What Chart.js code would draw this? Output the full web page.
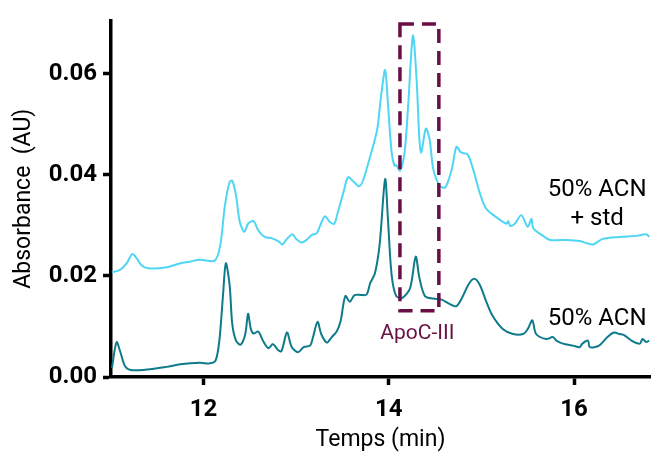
<!DOCTYPE html>
<html>
<head>
<meta charset="utf-8">
<script src="https://cdn.jsdelivr.net/npm/chart.js@4/dist/chart.umd.min.js"></script>
<style>
  html, body { margin: 0; padding: 0; background: #fff; }
  canvas { display: block; }
</style>
</head>
<body>
<canvas id="chromato" width="651" height="455"></canvas>
<script>
// Chromatogrammes : 50% ACN avec et sans standard (ApoC-III)

const tempsStd = [
  11.01, 11.10, 11.17, 11.23, 11.28, 11.33, 11.40, 11.60, 11.75, 11.85, 11.96, 12.12,
  12.18, 12.23, 12.28, 12.31, 12.35, 12.39, 12.44, 12.48, 12.54, 12.59, 12.66, 12.74,
  12.81, 12.85, 12.90, 12.96, 13.00, 13.06, 13.11, 13.17, 13.22, 13.26, 13.31, 13.36,
  13.41, 13.45, 13.51, 13.56, 13.62, 13.68, 13.72, 13.78, 13.85, 13.88, 13.92, 13.96,
  13.99, 14.03, 14.06, 14.08, 14.12, 14.17, 14.21, 14.26, 14.30, 14.33, 14.35, 14.40,
  14.44, 14.48, 14.55, 14.61, 14.68, 14.73, 14.78, 14.85, 14.91, 14.98, 15.05, 15.16,
  15.27, 15.29, 15.31, 15.36, 15.43, 15.50, 15.54, 15.56, 15.65, 15.74, 15.92, 16.06,
  16.20, 16.31, 16.49, 16.67, 16.78, 16.81,
];
const absStd = [
  0.0207, 0.0212, 0.0225, 0.0243, 0.0234, 0.0221, 0.0215, 0.0217, 0.0225, 0.0228, 0.0232, 0.0230,
  0.0261, 0.0339, 0.0385, 0.0388, 0.0359, 0.0307, 0.0287, 0.0303, 0.0308, 0.0290, 0.0277, 0.0274,
  0.0268, 0.0262, 0.0273, 0.0282, 0.0273, 0.0266, 0.0271, 0.0281, 0.0284, 0.0300, 0.0318, 0.0307,
  0.0303, 0.0326, 0.0365, 0.0395, 0.0386, 0.0377, 0.0388, 0.0424, 0.0470, 0.0496, 0.0561, 0.0607,
  0.0541, 0.0444, 0.0418, 0.0419, 0.0408, 0.0444, 0.0541, 0.0675, 0.0587, 0.0470, 0.0444, 0.0491,
  0.0470, 0.0411, 0.0378, 0.0375, 0.0411, 0.0455, 0.0444, 0.0440, 0.0411, 0.0365, 0.0333, 0.0316,
  0.0303, 0.0308, 0.0299, 0.0303, 0.0320, 0.0297, 0.0313, 0.0294, 0.0281, 0.0271, 0.0271, 0.0269,
  0.0262, 0.0273, 0.0277, 0.0279, 0.0282, 0.0277,
];

const tempsAcn = [
  11.01, 11.06, 11.10, 11.15, 11.21, 11.35, 11.60, 11.75, 11.96, 12.07, 12.13, 12.17,
  12.21, 12.24, 12.28, 12.31, 12.35, 12.40, 12.45, 12.48, 12.51, 12.54, 12.59, 12.64,
  12.70, 12.75, 12.80, 12.84, 12.90, 12.95, 13.02, 13.08, 13.15, 13.18, 13.23, 13.27,
  13.33, 13.38, 13.44, 13.48, 13.53, 13.58, 13.63, 13.71, 13.76, 13.80, 13.85, 13.90,
  13.96, 13.99, 14.03, 14.08, 14.15, 14.23, 14.29, 14.33, 14.39, 14.48, 14.57, 14.66,
  14.73, 14.80, 14.86, 14.92, 14.98, 15.05, 15.12, 15.23, 15.34, 15.45, 15.50, 15.55,
  15.59, 15.70, 15.77, 15.81, 15.88, 15.99, 16.06, 16.09, 16.15, 16.17, 16.27, 16.36,
  16.43, 16.49, 16.54, 16.62, 16.71, 16.74, 16.78, 16.81,
];
const absAcn = [
  0.0018, 0.0069, 0.0050, 0.0022, 0.0014, 0.0014, 0.0020, 0.0025, 0.0028, 0.0027, 0.0033, 0.0072,
  0.0163, 0.0225, 0.0183, 0.0104, 0.0072, 0.0064, 0.0085, 0.0125, 0.0095, 0.0086, 0.0090, 0.0072,
  0.0057, 0.0065, 0.0054, 0.0051, 0.0088, 0.0060, 0.0049, 0.0059, 0.0062, 0.0078, 0.0109, 0.0085,
  0.0068, 0.0078, 0.0091, 0.0111, 0.0160, 0.0149, 0.0162, 0.0162, 0.0163, 0.0186, 0.0205, 0.0261,
  0.0391, 0.0313, 0.0202, 0.0160, 0.0157, 0.0176, 0.0238, 0.0196, 0.0160, 0.0155, 0.0153, 0.0144,
  0.0140, 0.0160, 0.0183, 0.0194, 0.0183, 0.0150, 0.0121, 0.0095, 0.0085, 0.0085, 0.0095, 0.0112,
  0.0085, 0.0075, 0.0079, 0.0072, 0.0066, 0.0062, 0.0059, 0.0066, 0.0072, 0.0059, 0.0062, 0.0079,
  0.0088, 0.0085, 0.0083, 0.0072, 0.0066, 0.0075, 0.0069, 0.0072,
];

const ticksTemps = [12, 14, 16];
const ticksAbs = [0, 0.02, 0.04, 0.06];

// zone ApoC-III (en unités des axes)
const zoneApoTemps = [14.12, 14.54];
const zoneApoAbs = [0.0131, 0.0698];

const NOIR = '#000';
const CYAN = '#4fd6f4';
const TEAL = '#0e7b8b';
const BORDEAUX = '#6a0f45';
const POLICE = 'Roboto, "Noto Sans", sans-serif';

const versPoints = (xs, ys) => xs.map((x, i) => ({ x, y: ys[i] }));

const annotations = {
  id: 'annotations',
  afterDatasetsDraw(chart) {
    const { ctx, scales: { x, y } } = chart;
    ctx.save();

    // cadre pointillé
    const x0 = x.getPixelForValue(zoneApoTemps[0]);
    const x1 = x.getPixelForValue(zoneApoTemps[1]);
    const y0 = y.getPixelForValue(zoneApoAbs[1]);
    const y1 = y.getPixelForValue(zoneApoAbs[0]);
    ctx.strokeStyle = BORDEAUX;
    ctx.lineWidth = 3.5;
    ctx.setLineDash([14, 8]);
    ctx.strokeRect(x0, y0, x1 - x0, y1 - y0);
    ctx.setLineDash([]);

    ctx.textAlign = 'center';
    ctx.textBaseline = 'middle';
    ctx.fillStyle = BORDEAUX;
    ctx.font = `21px ${POLICE}`;
    ctx.fillText('ApoC-III', (x0 + x1) / 2 - 2, y1 + 23);

    // étiquettes des traces
    ctx.fillStyle = NOIR;
    ctx.font = `24px ${POLICE}`;
    const cx = x.getPixelForValue(16.25);
    ctx.fillText('50% ACN', cx, y.getPixelForValue(0.0369));
    ctx.fillText('+ std', cx, y.getPixelForValue(0.0312));
    ctx.fillText('50% ACN', cx, y.getPixelForValue(0.0115));
    ctx.restore();
  },
};

new Chart(document.getElementById('chromato'), {
  type: 'line',
  data: {
    datasets: [
      { label: '50% ACN + std', data: versPoints(tempsStd, absStd), borderColor: CYAN, borderWidth: 2 },
      { label: '50% ACN', data: versPoints(tempsAcn, absAcn), borderColor: TEAL, borderWidth: 2 },
    ],
  },
  options: {
    responsive: false,
    animation: false,
    layout: { padding: { top: 17, right: 1, left: 0, bottom: 0 } },
    elements: { point: { radius: 0 }, line: { tension: 0.3, fill: false } },
    plugins: { legend: { display: false }, tooltip: { enabled: false } },
    scales: {
      x: {
        type: 'linear',
        min: 11,
        max: 16.82,
        afterBuildTicks: (s) => { s.ticks = ticksTemps.map((v) => ({ value: v })); },
        afterFit: (s) => { s.height = 78; },
        border: { color: NOIR, width: 3.5 },
        grid: { drawOnChartArea: false, tickLength: 8, tickWidth: 3.5, tickColor: NOIR },
        ticks: { color: NOIR, padding: 11, font: { family: POLICE, size: 24, weight: 'bold' }, maxRotation: 0 },
        title: { display: true, text: 'Temps (min)', color: NOIR, padding: { top: 0, bottom: 1 }, font: { family: POLICE, size: 23 } },
      },
      y: {
        min: 0,
        max: 0.0705,
        afterBuildTicks: (s) => { s.ticks = ticksAbs.map((v) => ({ value: v })); },
        afterFit: (s) => { s.width = 111; },
        border: { color: NOIR, width: 3.5 },
        grid: { drawOnChartArea: false, tickLength: 8, tickWidth: 3.5, tickColor: NOIR },
        ticks: { color: NOIR, padding: 6, font: { family: POLICE, size: 24, weight: 'bold' }, callback: (v) => v.toFixed(2) },
        title: { display: true, text: 'Absorbance  (AU)', color: NOIR, padding: { top: 10, bottom: 0 }, font: { family: POLICE, size: 23 } },
      },
    },
  },
  plugins: [annotations],
});
</script>
</body>
</html>
